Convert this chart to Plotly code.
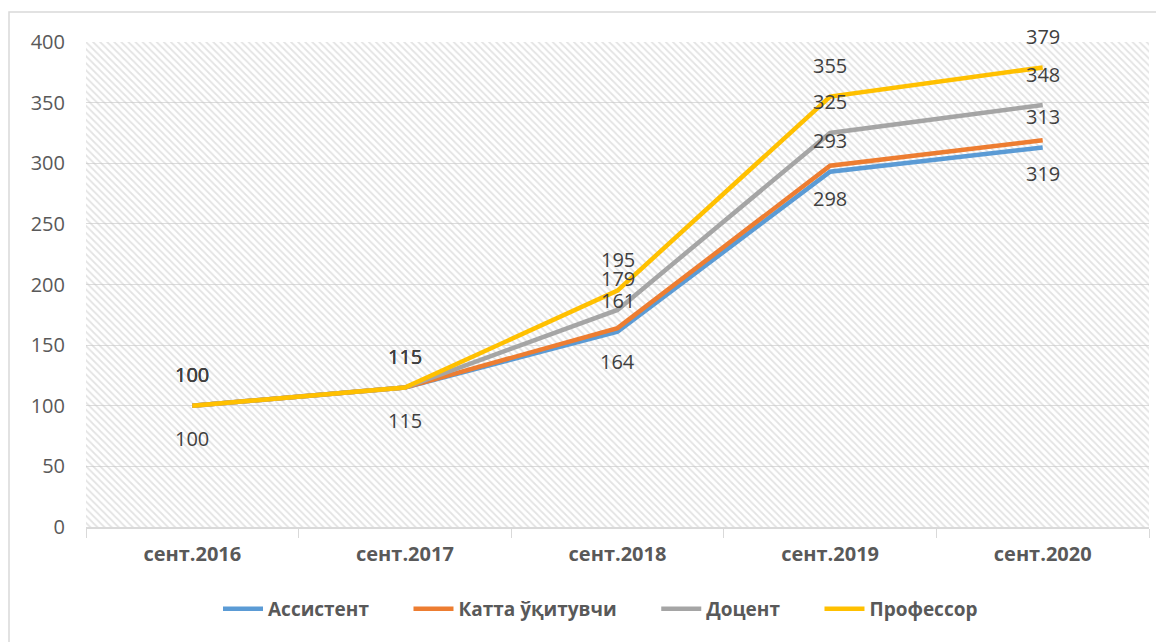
import plotly.graph_objects as go

categories = ["сент.2016", "сент.2017", "сент.2018", "сент.2019", "сент.2020"]
assistant = [100, 115, 161, 293, 313]
katta = [100, 115, 164, 298, 319]
dotsent = [100, 115, 179, 325, 348]
professor = [100, 115, 195, 355, 379]
y_ticks = [0, 50, 100, 150, 200, 250, 300, 350, 400]

series = [
    ("Ассистент", assistant, "#5B9BD5", 1),
    ("Катта ўқитувчи", katta, "#ED7D31", -1),
    ("Доцент", dotsent, "#A5A5A5", 1),
    ("Профессор", professor, "#FFC000", 1),
]

fig = go.Figure()

# hatched plot-area background (base axes, hidden)
fig.add_trace(go.Scatter(
    x=[0, 1, 1, 0, 0], y=[0, 0, 1, 1, 0], xaxis="x", yaxis="y",
    mode="lines", line=dict(width=0), fill="toself", fillcolor="rgba(0,0,0,0)",
    fillpattern=dict(shape="\\", fgcolor="#c8c8c8", bgcolor="rgba(0,0,0,0)", size=5, solidity=0.35),
    hoverinfo="skip", showlegend=False,
))

annotations = []
for name, vals, color, side in series:
    fig.add_trace(go.Scatter(
        x=categories, y=vals, name=name + "\u00a0" * 7, mode="lines", xaxis="x2", yaxis="y2",
        line=dict(color=color, width=4.5),
    ))
    for c, v in zip(categories, vals):
        annotations.append(dict(
            x=c, y=v, xref="x2", yref="y2", text=str(v), showarrow=False,
            yshift=31 if side > 0 else -33,
            font=dict(family="Open Sans", size=20, color="#404040"),
        ))

fig.update_layout(
    width=1164, height=642,
    margin=dict(l=78, r=23, t=34, b=123, autoexpand=False),
    paper_bgcolor="white", plot_bgcolor="white",
    showlegend=True,
    xaxis=dict(range=[0, 1], visible=False, fixedrange=True),
    yaxis=dict(range=[0, 1], visible=False, fixedrange=True),
    xaxis2=dict(
        overlaying="x", type="category", range=[-0.5, 4.5], side="bottom",
        tickson="boundaries", ticks="outside", ticklen=9, tickcolor="#d9d9d9",
        showline=True, linecolor="#d9d9d9", linewidth=1.5, showgrid=False,
        tickfont=dict(family="Open Sans", size=20, color="#595959", weight="bold"),
        ticklabelstandoff=8, automargin=False,
    ),
    yaxis2=dict(
        overlaying="y", range=[0, 400], tickvals=y_ticks, showgrid=True,
        gridcolor="#dcdcdc", gridwidth=1.3, zeroline=False, showline=False,
        tickfont=dict(family="Open Sans", size=20, color="#595959"),
        ticklabelstandoff=20, automargin=False,
    ),
    legend=dict(
        orientation="h", x=0.5, xanchor="center", y=-0.169, yanchor="middle",
        font=dict(family="Open Sans", size=19, color="#595959", weight="bold"),
        itemwidth=40, tracegroupgap=0,
    ),
    annotations=annotations,
    shapes=[dict(
        type="rect", xref="paper", yref="paper",
        x0=(9 - 86) / 1063, x1=1.03, y0=-0.26, y1=(527 - 12) / 485,
        line=dict(color="#d9d9d9", width=1.5), fillcolor="rgba(0,0,0,0)", layer="below",
    )],
)

fig.write_html("out.html")
